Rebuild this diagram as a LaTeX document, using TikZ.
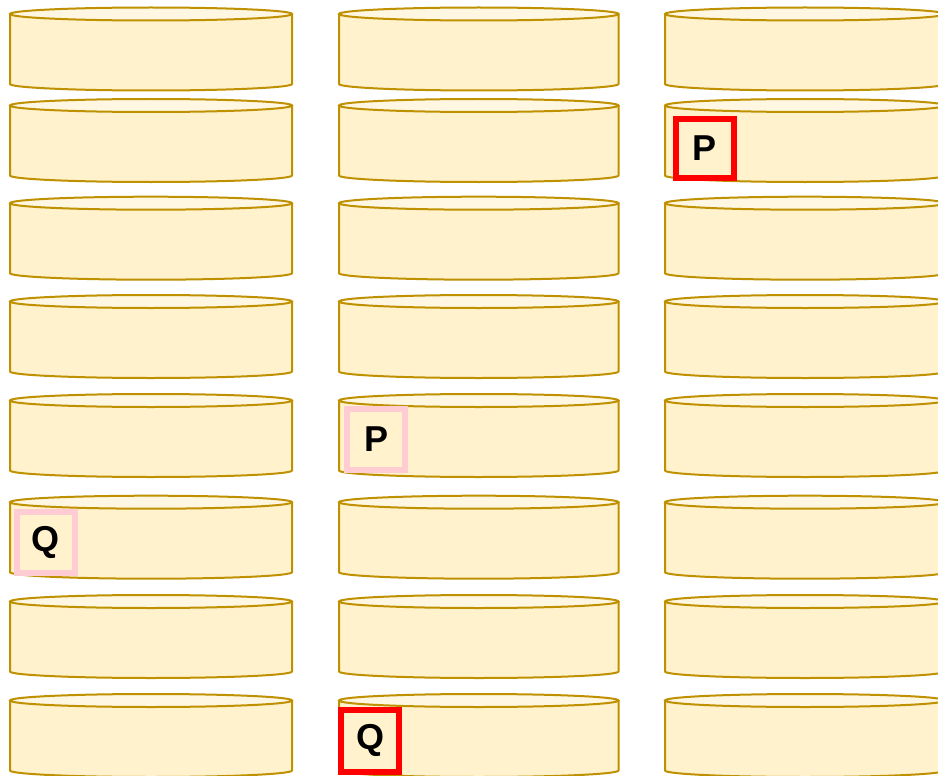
\documentclass[tikz,border=0pt]{standalone}
\usepackage{fontspec}
\setmainfont{Liberation Sans}
\definecolor{cylfill}{HTML}{FFF2CC}
\definecolor{cyltopfill}{HTML}{FFF7E1}
\definecolor{cylline}{HTML}{BF9000}
\definecolor{hlred}{HTML}{FF0000}
\definecolor{hlpink}{HTML}{FFCCD3}
\tikzset{
  cylbody/.style={fill=cylfill, draw=cylline, line width=2pt, line join=round},
  cyltop/.style={fill=cyltopfill, draw=cylline, line width=2pt},
  hlbox/.style={line width=6pt, inner sep=0pt, text=black,
    font=\fontsize{36}{36}\selectfont\bfseries},
}
\newcommand\cylshape[4]{%
  \pgfmathsetmacro\cyR{#1+#3}%
  \pgfmathsetmacro\cyC{#1+#3/2}%
  \pgfmathsetmacro\cyTa{#2+6.5}%
  \pgfmathsetmacro\cyB{#2+#4-6.5}%
  \pgfmathsetmacro\cyBot{#2+#4}%
  \pgfmathsetmacro\cyK{0.5523*#3/2}%
  \pgfmathsetmacro\cyKr{\cyB+0.5523*6.5}%
  \filldraw[cylbody] (#1,\cyTa) -- (#1,\cyB)
    .. controls (#1,\cyKr) and (\cyC-\cyK,\cyBot) .. (\cyC,\cyBot)
    .. controls (\cyC+\cyK,\cyBot) and (\cyR,\cyKr) .. (\cyR,\cyB)
    -- (\cyR,\cyTa) -- cycle;
  \filldraw[cyltop] (\cyC,\cyTa) ellipse[x radius=#3/2, y radius=6.5];
}
\begin{document}
\begin{tikzpicture}[x=1pt, y=-1pt]
\useasboundingbox (0,0) rectangle (938,776);
\clip (0,0) rectangle (938,776);
\foreach \L/\W in {10/282, 339/279.5, 665/280} {
  \foreach \T in {7.5,99,196.7,295,394,495.7,595,694} {
    \cylshape{\L}{\T}{\W}{83}
  }
}
\node[hlbox, draw=hlred, minimum width=57.4pt, minimum height=59pt] (p1) at (705,148.2) {P};
\node[hlbox, draw=hlpink, minimum width=58pt, minimum height=61.6pt] (p2) at (376.3,439.5) {P};
\node[hlbox, draw=hlpink, minimum width=58pt, minimum height=61pt] (q1) at (45.5,542) {Q};
\node[hlbox, draw=hlred, minimum width=57.4pt, minimum height=62pt] (q2) at (370,740.8) {Q};
\end{tikzpicture}
\end{document}
